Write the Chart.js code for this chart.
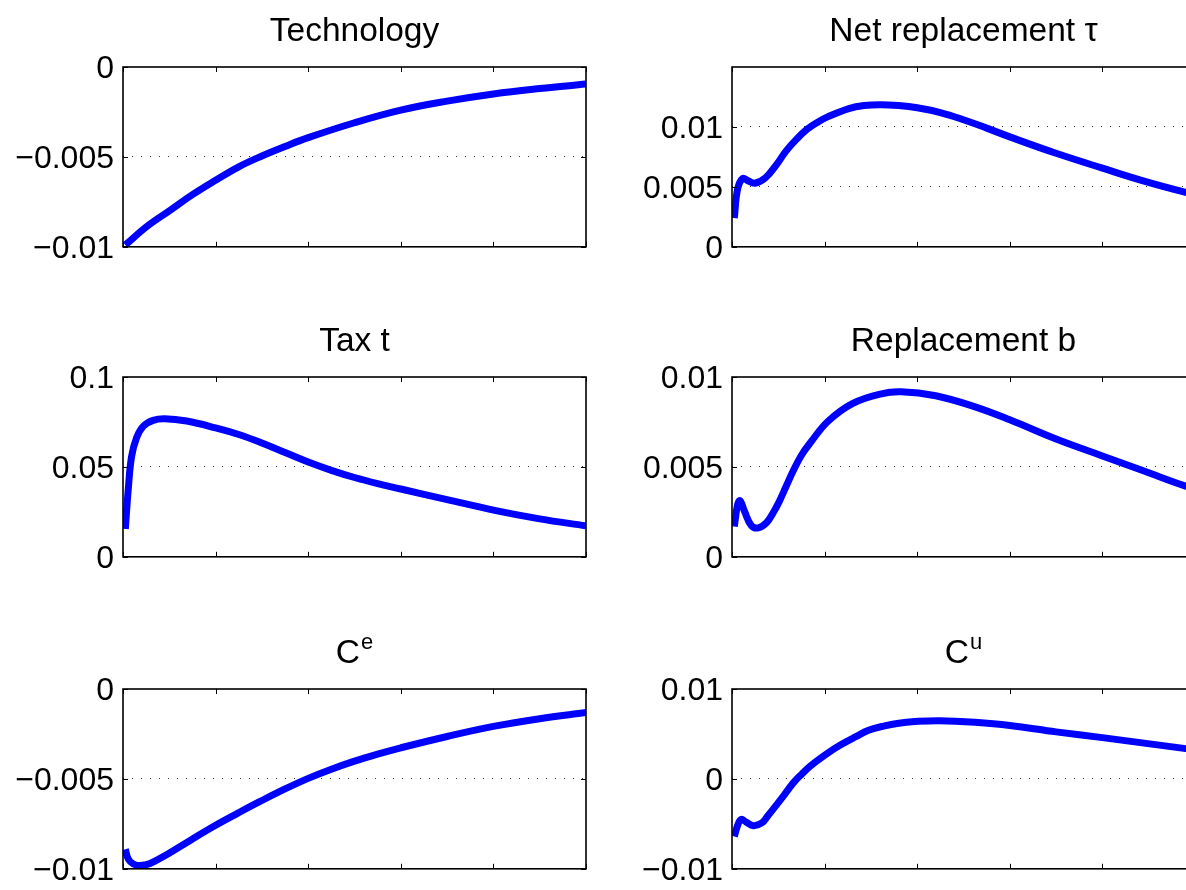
<!DOCTYPE html>
<html>
<head>
<meta charset="utf-8">
<script src="https://cdn.jsdelivr.net/npm/chart.js@4/dist/chart.umd.min.js"></script>
<style>
html, body { margin: 0; padding: 0; background: #fff; overflow: hidden; width: 1186px; height: 890px; }
canvas { position: absolute; }
</style>
</head>
<body>
<canvas id="p1" width="592" height="275" style="left:0px;top:0px"></canvas>
<canvas id="p2" width="592" height="275" style="left:609px;top:0px"></canvas>
<canvas id="p3" width="592" height="275" style="left:0px;top:310px"></canvas>
<canvas id="p4" width="592" height="275" style="left:609px;top:310px"></canvas>
<canvas id="p5" width="592" height="275" style="left:0px;top:622px"></canvas>
<canvas id="p6" width="592" height="275" style="left:609px;top:622px"></canvas>
<script>
const FONT = '"Liberation Sans", Arial, Helvetica, sans-serif';

// x axis (periods), ticks only, no labels
const xTicks = [0, 40, 80, 120, 160, 200];

// Technology
const techT = [1, 10, 20, 30, 40, 50, 60, 70, 80, 100, 120, 140, 160, 180, 200];
const techY = [-0.0099, -0.0089, -0.0080, -0.0071, -0.0063, -0.00555, -0.00495, -0.00442, -0.00393, -0.0031, -0.0024, -0.0019, -0.0015, -0.0012, -0.00095];
const techTicks = [-0.01, -0.005, 0];
const techLabels = ['\u22120.01', '\u22120.005', '0'];

// Net replacement tau
const tauT = [1, 2.4, 4.6, 7, 9.9, 14.4, 19, 23.4, 28, 32.4, 37, 41.5, 50.5, 57, 64, 72, 80, 90, 100, 110, 120, 140, 160, 178, 196, 200];
const tauY = [0.0024, 0.0048, 0.0057, 0.0055, 0.0053, 0.00575, 0.0068, 0.0080, 0.0090, 0.0098, 0.0104, 0.01086, 0.01153, 0.01178, 0.01185, 0.01178, 0.0116, 0.0112, 0.0106, 0.0099, 0.00917, 0.0078, 0.00656, 0.00548, 0.00454, 0.0044];
const tauTicks = [0, 0.005, 0.01];
const tauLabels = ['0', '0.005', '0.01'];

// Tax t
const taxT = [1, 2.3, 3.7, 5.9, 8.8, 13, 18, 27.5, 40, 50, 60, 70, 80, 90, 100, 110, 120, 140, 160, 180, 200];
const taxY = [0.0155, 0.038, 0.0557, 0.0664, 0.0727, 0.0759, 0.0768, 0.0755, 0.0717, 0.0680, 0.0633, 0.0580, 0.0527, 0.0481, 0.0441, 0.0407, 0.0377, 0.0318, 0.0260, 0.0211, 0.0172];
const taxTicks = [0, 0.05, 0.1];
const taxLabels = ['0', '0.05', '0.1'];

// Replacement b
const bT = [1, 2.4, 3.5, 5.4, 8.4, 11.4, 15, 17.8, 20.4, 23.4, 26.4, 30, 34, 41.5, 52, 64, 73, 88, 105, 120, 140, 160, 178, 196, 200];
const bY = [0.00168, 0.00289, 0.00312, 0.00253, 0.00173, 0.00161, 0.00191, 0.00245, 0.00307, 0.00392, 0.00477, 0.00565, 0.00637, 0.00754, 0.00852, 0.00905, 0.00918, 0.00896, 0.00834, 0.00762, 0.00655, 0.00561, 0.00477, 0.00393, 0.00385];
const bTicks = [0, 0.005, 0.01];
const bLabels = ['0', '0.005', '0.01'];

// C^e
const ceT = [1, 2.3, 4.5, 7.3, 11.7, 19, 29, 40, 50, 59, 70, 80, 90, 100, 110, 120, 140, 160, 180, 200];
const ceY = [-0.00892, -0.00946, -0.00973, -0.00982, -0.0097, -0.0092, -0.00842, -0.00758, -0.00688, -0.00627, -0.00556, -0.00497, -0.00446, -0.00401, -0.00362, -0.00327, -0.00264, -0.00208, -0.00165, -0.00131];
const ceTicks = [-0.01, -0.005, 0];
const ceLabels = ['\u22120.01', '\u22120.005', '0'];

// C^u
const cuT = [1, 2.4, 3.9, 6.1, 9.2, 12.9, 15.5, 18.9, 22.5, 26.4, 30, 34, 41.5, 47, 53.5, 59, 65.5, 72, 79, 89.6, 105, 120, 140, 160, 178, 196, 200];
const cuY = [-0.0064, -0.0052, -0.0045, -0.0048, -0.0052, -0.0049, -0.0041, -0.0030, -0.0018, -0.00047, 0.0005, 0.00147, 0.0029, 0.0038, 0.0047, 0.0054, 0.00588, 0.0062, 0.00638, 0.00648, 0.0063, 0.00595, 0.00523, 0.00459, 0.00398, 0.00337, 0.00325];
const cuTicks = [-0.01, 0, 0.01];
const cuLabels = ['\u22120.01', '0', '0.01'];

// box, inward ticks and title (with superscript) like matlab subplots
const matlabBox = {
    id: 'matlabBox',
    afterDraw(chart, args, opts) {
        const { ctx, chartArea: a, scales } = chart;
        ctx.save();
        ctx.strokeStyle = '#000';
        ctx.lineWidth = 1;
        ctx.beginPath();
        xTicks.forEach(v => {
            const x = Math.round(scales.x.getPixelForValue(v)) + 0.5;
            ctx.moveTo(x, a.top); ctx.lineTo(x, a.top + 5);
            ctx.moveTo(x, a.bottom); ctx.lineTo(x, a.bottom - 5);
        });
        scales.y.ticks.forEach(t => {
            const y = Math.round(scales.y.getPixelForValue(t.value)) + 0.5;
            ctx.moveTo(a.left, y); ctx.lineTo(a.left + 5, y);
            ctx.moveTo(a.right, y); ctx.lineTo(a.right - 5, y);
        });
        ctx.stroke();
        ctx.lineWidth = 1.6;
        ctx.strokeRect(a.left, a.top, a.right - a.left, a.bottom - a.top);

        ctx.fillStyle = '#000';
        ctx.textBaseline = 'alphabetic';
        ctx.textAlign = 'left';
        ctx.font = '33.5px ' + FONT;
        const w = ctx.measureText(opts.text).width;
        let sw = 0;
        if (opts.sup) {
            ctx.font = '22px ' + FONT;
            sw = ctx.measureText(opts.sup).width + 1;
        }
        const x0 = (a.left + a.right) / 2 - (w + sw) / 2;
        const by = a.top - 26;
        ctx.font = '33.5px ' + FONT;
        ctx.fillText(opts.text, x0, by);
        if (opts.sup) {
            ctx.font = '22px ' + FONT;
            ctx.fillText(opts.sup, x0 + w + 1, by - 14);
        }
        ctx.restore();
    }
};

function makePanel(id, title, sup, ts, ys, min, max, ticks, labels) {
    const ctx = document.getElementById(id).getContext('2d');
    return new Chart(ctx, {
        type: 'line',
        data: {
            datasets: [{
                data: ts.map((t, i) => ({ x: t, y: ys[i] })),
                borderColor: '#0000ff',
                borderWidth: 7,
                pointRadius: 0,
                tension: 0.4,
                borderJoinStyle: 'round'
            }]
        },
        options: {
            responsive: false,
            animation: false,
            layout: { padding: { top: 67, bottom: 22, left: 0, right: 6 } },
            plugins: {
                legend: { display: false },
                tooltip: { enabled: false },
                matlabBox: { text: title, sup: sup }
            },
            scales: {
                x: { type: 'linear', min: 0, max: 200, display: false },
                y: {
                    type: 'linear',
                    min: min,
                    max: max,
                    afterFit: s => { s.width = 123; },
                    afterBuildTicks: s => { s.ticks = ticks.map(v => ({ value: v })); },
                    ticks: {
                        autoSkip: false,
                        padding: 9,
                        labelOffset: 2,
                        color: '#000',
                        font: { size: 32, family: FONT },
                        callback: (v, i) => labels[i]
                    },
                    grid: {
                        drawTicks: false,
                        lineWidth: 1,
                        color: c => (c.tick && c.tick.value > min && c.tick.value < max) ? '#333' : 'rgba(0,0,0,0)'
                    },
                    border: { display: false, dash: [1, 8] }
                }
            }
        },
        plugins: [matlabBox]
    });
}

makePanel('p1', 'Technology', '', techT, techY, -0.01, 0, techTicks, techLabels);
makePanel('p2', 'Net replacement \u03c4', '', tauT, tauY, 0, 0.015, tauTicks, tauLabels);
makePanel('p3', 'Tax t', '', taxT, taxY, 0, 0.1, taxTicks, taxLabels);
makePanel('p4', 'Replacement b', '', bT, bY, 0, 0.01, bTicks, bLabels);
makePanel('p5', 'C', 'e', ceT, ceY, -0.01, 0, ceTicks, ceLabels);
makePanel('p6', 'C', 'u', cuT, cuY, -0.01, 0.01, cuTicks, cuLabels);
</script>
</body>
</html>
